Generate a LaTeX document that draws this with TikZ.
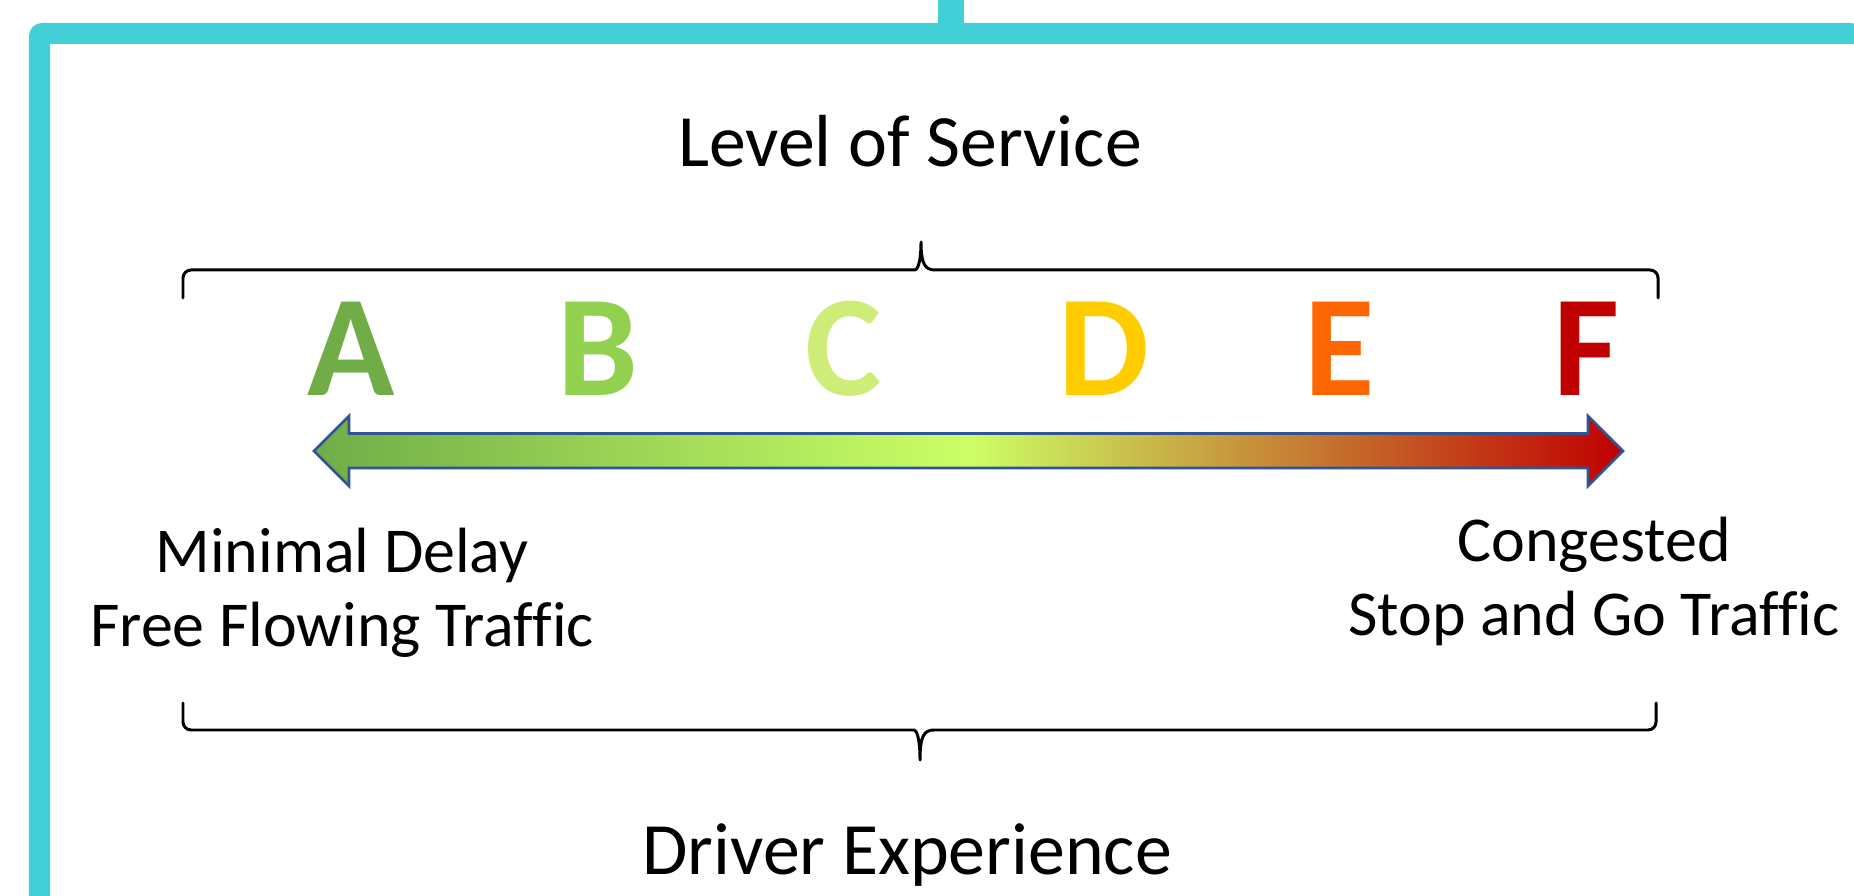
\documentclass[tikz,border=0pt]{standalone}
\usepackage{fontspec}
\setmainfont{Carlito}[Ligatures=CommonOff]

\begin{document}
\begin{tikzpicture}
    \definecolor{frame_cyan}{HTML}{42CFD6}
    \definecolor{los_a}{HTML}{70AD47}
    \definecolor{los_b}{HTML}{92D050}
    \definecolor{los_c}{HTML}{CDEC78}
    \definecolor{los_d}{HTML}{FFCC00}
    \definecolor{los_e}{HTML}{FF6600}
    \definecolor{los_f}{HTML}{C00000}
    \definecolor{arrow_lime}{HTML}{CCFF66}
    \definecolor{edge_blue}{HTML}{2F5597}
    \tikzset{
        grade/.style={anchor=base, inner sep=0pt, font=\fontsize{41}{41}\selectfont\bfseries},
        heading/.style={anchor=base, inner sep=0pt, font=\fontsize{21}{25}\selectfont},
        caption/.style={anchor=base, align=center, inner sep=0pt, font=\fontsize{18.2}{21.3}\selectfont},
        brace/.style={line width=0.85pt, line cap=round, line join=round},
    }
    \useasboundingbox (0,0) rectangle (18.54,8.95);
    %\draw[help lines] (0,0) grid (18,8);

    % frame
    \path[fill=frame_cyan] (0.29,-0.1) [rounded corners=1.3mm] |- (18.64,8.72)
        [sharp corners] -- (18.64,8.51) -| (0.50,-0.1) -- cycle;
    \path[fill=frame_cyan] (9.38,8.60) rectangle (9.64,9.05);

    \node[heading] (los_title) at (9.10,7.28) {Level of Service};
    \node[heading] (driver_title) at (9.07,0.21) {Driver Experience};

    % braces
    \draw[brace] (1.83,5.97) [rounded corners=0.8mm] -- (1.83,6.25) -- (9.07,6.25)
        [sharp corners] .. controls (9.17,6.25) and (9.21,6.31) .. (9.21,6.53)
        .. controls (9.21,6.31) and (9.25,6.25) .. (9.35,6.25)
        [rounded corners=0.8mm] -- (16.58,6.25) -- (16.58,5.97);
    \draw[brace] (1.83,1.92) [rounded corners=0.8mm] -- (1.83,1.65) -- (9.06,1.65)
        [sharp corners] .. controls (9.16,1.65) and (9.20,1.59) .. (9.20,1.35)
        .. controls (9.20,1.59) and (9.24,1.65) .. (9.34,1.65)
        [rounded corners=0.8mm] -- (16.56,1.65) -- (16.56,1.92);

    \node[grade, text=los_a] (grade_a) at (3.51,4.99) {A};
    \node[grade, text=los_b] (grade_b) at (5.98,4.99) {B};
    \node[grade, text=los_c] (grade_c) at (8.44,4.99) {C};
    \node[grade, text=los_d] (grade_d) at (11.04,4.99) {D};
    \node[grade, text=los_e] (grade_e) at (13.40,4.99) {E};
    \node[grade, text=los_f] (grade_f) at (15.87,4.99) {F};

    % double arrow, middle color has to come last
    \path[draw=edge_blue, line width=0.75pt, left color=los_a, right color=los_f, middle color=arrow_lime]
        (3.14,4.44) -- (3.49,4.79) -- (3.49,4.615) -- (15.88,4.615) -- (15.88,4.79)
        -- (16.23,4.44) -- (15.88,4.09) -- (15.88,4.27) -- (3.49,4.27) -- (3.49,4.09) -- cycle;

    % base sits on the lower line
    \node[caption] (delay_low) at (3.42,2.48) {Minimal Delay\\Free Flowing Traffic};
    \node[caption] (delay_high) at (15.94,2.59) {Congested\\Stop and Go Traffic};
\end{tikzpicture}
\end{document}
